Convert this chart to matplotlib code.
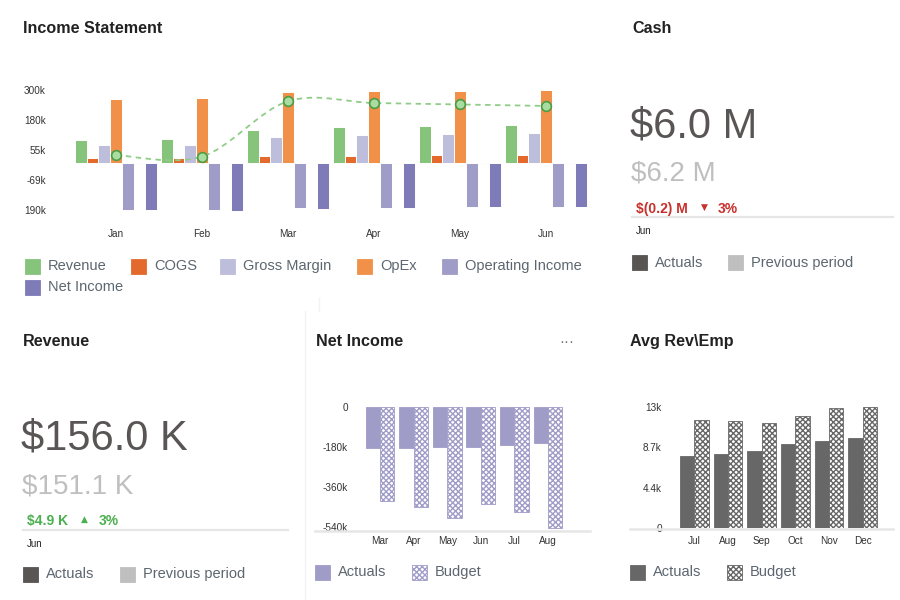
"""Finance dashboard: income statement, cash, revenue, net income, avg rev per employee."""

import matplotlib

matplotlib.use("Agg")
import matplotlib.pyplot as plt
from matplotlib import font_manager
from matplotlib.lines import Line2D
from matplotlib.patches import PathPatch, Rectangle
from matplotlib.path import Path

W, H = 900, 600

# Income statement (Jan-Jun)
MONTHS = ["Jan", "Feb", "Mar", "Apr", "May", "Jun"]
REVENUE = [96e3, 98.5e3, 137e3, 149e3, 151.1e3, 156e3]
COGS = [21e3, 22e3, 29e3, 32e3, 33e3, 35e3]
GROSS_MARGIN = [75e3, 77e3, 108e3, 118e3, 121e3, 124e3]
OPEX = [263e3, 269e3, 292e3, 298e3, 298e3, 301e3]
OPERATING_INCOME = [-189e3, -191e3, -183e3, -180e3, -176e3, -178e3]
OTHER = [-3e3, -3e3, -3e3, -3e3, -3e3, -3e3]
NET_INCOME = [-190e3, -193e3, -185e3, -182e3, -178e3, -178e3]
TREND = [34e3, 28e3, 254e3, 247e3, 241e3, 235e3]
INCOME_TICKS = [300e3, 177.5e3, 55e3, -67.5e3, -190e3]
INCOME_TICK_LABELS = ["300k", "180k", "55k", "-69k", "190k"]

# KPI cards
CASH_ACTUAL, CASH_PREV = 6.0, 6.2
REV_ACTUAL, REV_PREV = 156.0, 151.1

# Net income actuals vs budget (Mar-Aug)
NI_MONTHS = ["Mar", "Apr", "May", "Jun", "Jul", "Aug"]
NI_ACTUALS = [-187e3, -184e3, -180e3, -181e3, -174e3, -165e3]
NI_BUDGET = [-426e3, -450e3, -502e3, -440e3, -472e3, -544e3]
NI_TICKS = [0, -180e3, -360e3, -540e3]
NI_TICK_LABELS = ["0", "-180k", "-360k", "-540k"]

# Avg revenue per employee (Jul-Dec)
AVG_MONTHS = ["Jul", "Aug", "Sep", "Oct", "Nov", "Dec"]
AVG_ACTUALS = [7770, 8020, 8300, 9020, 9350, 9710]
AVG_BUDGET = [11580, 11500, 11320, 12080, 12870, 13010]
AVG_TICKS = [0, 4350, 8700, 13050]
AVG_TICK_LABELS = ["0", "4.4k", "8.7k", "13k"]

SERIES_COLORS = {
    "Revenue": "#86c47c",
    "COGS": "#e36a2c",
    "Gross Margin": "#bdbddc",
    "OpEx": "#f19149",
    "Operating Income": "#a09cc8",
    "Net Income": "#7f7bb8",
}
OTHER_COLOR = "#f7a86c"
TITLE_C = "#222222"
LEGEND_C = "#5c6670"
BIG_C = "#5a5555"
PREV_C = "#bfbfbf"
RED = "#c8302c"
GREEN = "#4caf50"
LAVENDER = "#a09cc8"
GRAY = "#676767"
HATCH = "xxxxxx"

plt.rcParams["font.family"] = ["Liberation Sans", "DejaVu Sans"]
plt.rcParams["hatch.linewidth"] = 1.0

names = {f.name for f in font_manager.fontManager.ttflist}
if "Liberation Sans Narrow" in names:
    TITLE_FONT = dict(family=["Liberation Sans Narrow", "DejaVu Sans"], size=13, weight="bold")
else:
    TITLE_FONT = dict(family=["Liberation Sans", "DejaVu Sans"], size=11.6, weight="bold")

fig = plt.figure(figsize=(W / 100, H / 100), dpi=100)


def fx(x):
    return x / W


def fy(y):
    return 1 - y / H


def add_ax(left, top, right, bottom):
    ax = fig.add_axes([fx(left), fy(bottom), (right - left) / W, (bottom - top) / H])
    for s in ax.spines.values():
        s.set_visible(False)
    ax.tick_params(length=0, labelsize=7.2, colors="#333333")
    return ax


def title(x, y, text):
    fig.text(fx(x), fy(y), text, color=TITLE_C, va="baseline", ha="left", **TITLE_FONT)


def legend_item(x, y, label, face, hatch=None, edge=None, size=15):
    fig.patches.append(Rectangle((fx(x), fy(y + size / 2)), size / W, size / H,
                                 transform=fig.transFigure, facecolor=face,
                                 edgecolor=edge if edge else face, hatch=hatch, lw=0.6))
    fig.text(fx(x + size + 8), fy(y), label, fontsize=10.5, color=LEGEND_C, va="center")


def hline(x0, x1, y, color="#e6e6e6", lw=1.6):
    fig.add_artist(Line2D([fx(x0), fx(x1)], [fy(y), fy(y)], color=color, lw=lw,
                          transform=fig.transFigure))


def vline(x, y0, y1, color="#f3f3f3", lw=1):
    fig.add_artist(Line2D([fx(x), fx(x)], [fy(y0), fy(y1)], color=color, lw=lw,
                          transform=fig.transFigure))


def smooth_path(xs, ys):
    # Catmull-Rom curve through the points, expressed as cubic Beziers
    pts = list(zip(xs, ys))
    verts = [pts[0]]
    codes = [Path.MOVETO]
    for i in range(len(pts) - 1):
        p0 = pts[i - 1] if i > 0 else pts[i]
        p1, p2 = pts[i], pts[i + 1]
        p3 = pts[i + 2] if i + 2 < len(pts) else pts[i + 1]
        c1 = (p1[0] + (p2[0] - p0[0]) / 6, p1[1] + (p2[1] - p0[1]) / 6)
        c2 = (p2[0] - (p3[0] - p1[0]) / 6, p2[1] - (p3[1] - p1[1]) / 6)
        verts += [c1, c2, p2]
        codes += [Path.CURVE4] * 3
    return Path(verts, codes)


# ---------------- Income Statement ----------------
title(23, 33.3, "Income Statement")
ax = add_ax(50, 85, 592, 215)
x = list(range(len(MONTHS)))
bw = 11.7 / 86
series = [
    (REVENUE, SERIES_COLORS["Revenue"]),
    (COGS, SERIES_COLORS["COGS"]),
    (GROSS_MARGIN, SERIES_COLORS["Gross Margin"]),
    (OPEX, SERIES_COLORS["OpEx"]),
    (OPERATING_INCOME, SERIES_COLORS["Operating Income"]),
    (OTHER, OTHER_COLOR),
    (NET_INCOME, SERIES_COLORS["Net Income"]),
]
for k, (vals, color) in enumerate(series):
    ax.bar([i + (k - 3) * bw for i in x], vals, width=bw, color=color,
           edgecolor="white", linewidth=0.7)
ax.add_patch(PathPatch(smooth_path(x, TREND), fill=False, edgecolor="#8fcd87",
                       lw=1.3, linestyle=(0, (3, 2.5))))
ax.plot(x, TREND, "o", ms=7, mfc="#a9dca1", mec="#4c9c47", mew=1.2)
ax.set_xlim(-0.767, 5.535)
ax.set_ylim(-210.3e3, 320.5e3)
ax.set_yticks(INCOME_TICKS, INCOME_TICK_LABELS)
ax.set_xticks(x, MONTHS)
ax.tick_params(axis="y", pad=3)
ax.tick_params(axis="x", pad=10)

legend_rows = [
    [(25, "Revenue"), (131, "COGS"), (220, "Gross Margin"), (357, "OpEx"), (442, "Operating Income")],
    [(25, "Net Income")],
]
for row_y, row in zip([266, 287], legend_rows):
    for lx, name in row:
        legend_item(lx, row_y, name, SERIES_COLORS[name])

# ---------------- Cash card ----------------
title(632, 33.3, "Cash")
fig.text(fx(630), fy(138), f"${CASH_ACTUAL:.1f} M", fontsize=30, color=BIG_C, va="baseline")
fig.text(fx(631), fy(180.7), f"${CASH_PREV:.1f} M", fontsize=20, color=PREV_C, va="baseline")
fig.text(fx(636), fy(212.7), f"$({abs(CASH_ACTUAL - CASH_PREV):.1f}) M", fontsize=10,
         weight="bold", color=RED, va="baseline")
fig.text(fx(704), fy(207.5), "\u25bc", fontsize=6.5, color=RED, va="center", ha="center",
         family=["DejaVu Sans"])
fig.text(fx(718), fy(212.7), f"{abs(CASH_ACTUAL - CASH_PREV) / CASH_PREV * 100:.0f}%",
         fontsize=10, weight="bold", color=RED, va="baseline")
hline(632, 893, 217)
fig.text(fx(636), fy(234), "Jun", fontsize=7, color="#222222", va="baseline")
legend_item(632, 262.7, "Actuals", BIG_C)
legend_item(728, 262.7, "Previous period", PREV_C)

# ---------------- Revenue card ----------------
title(23, 346.3, "Revenue")
fig.text(fx(21), fy(450), f"${REV_ACTUAL:.1f} K", fontsize=30, color=BIG_C, va="baseline")
fig.text(fx(22), fy(493.3), f"${REV_PREV:.1f} K", fontsize=20, color=PREV_C, va="baseline")
fig.text(fx(27), fy(525), f"${REV_ACTUAL - REV_PREV:.1f} K", fontsize=10, weight="bold",
         color=GREEN, va="baseline")
fig.text(fx(84), fy(519), "\u25b2", fontsize=6.5, color=GREEN, va="center", ha="center",
         family=["DejaVu Sans"])
fig.text(fx(99), fy(525), f"{(REV_ACTUAL - REV_PREV) / REV_PREV * 100:.0f}%", fontsize=10,
         weight="bold", color=GREEN, va="baseline")
hline(23, 288, 529.5)
fig.text(fx(27), fy(546.7), "Jun", fontsize=7, color="#222222", va="baseline")
legend_item(23, 574, "Actuals", BIG_C)
legend_item(120, 574, "Previous period", PREV_C)

# panel dividers
vline(319, 298, 311)
vline(305, 311, 600)

# ---------------- Net Income ----------------
title(316, 346.3, "Net Income")
fig.text(fx(567), fy(342), "\u00b7\u00b7\u00b7", fontsize=11, color="#777777", ha="center",
         va="center")
ax = add_ax(352, 398, 590, 530)
x = list(range(len(NI_MONTHS)))
nb = 14.4 / 33.6
ax.bar([i - nb / 2 for i in x], NI_ACTUALS, width=nb, color=LAVENDER, edgecolor=LAVENDER,
       linewidth=0.6)
ax.bar([i + nb / 2 for i in x], NI_BUDGET, width=nb, color="white", edgecolor=LAVENDER,
       hatch=HATCH, linewidth=0.6)
ax.set_xlim(-0.833, 6.25)
ax.set_ylim(-555e3, 39e3)
ax.set_yticks(NI_TICKS, NI_TICK_LABELS)
ax.set_xticks(x, NI_MONTHS)
ax.tick_params(axis="y", pad=3)
ax.tick_params(axis="x", pad=4)
hline(315, 590, 530.5, lw=1.8)
legend_item(315, 572, "Actuals", LAVENDER)
legend_item(412, 572, "Budget", "white", hatch=HATCH, edge=LAVENDER)

# ---------------- Avg Rev\Emp ----------------
title(630, 346.3, "Avg Rev\\Emp")
ax = add_ax(666, 398, 893, 528)
x = list(range(len(AVG_MONTHS)))
ab = 14.3 / 33.7
ax.bar([i - ab / 2 for i in x], AVG_ACTUALS, width=ab, color=GRAY, edgecolor=GRAY,
       linewidth=0.6)
ax.bar([i + ab / 2 for i in x], AVG_BUDGET, width=ab, color="white", edgecolor=GRAY,
       hatch=HATCH, linewidth=0.6)
ax.set_xlim(-0.84, 5.9)
ax.set_ylim(0, 14.0e3)
ax.set_yticks(AVG_TICKS, AVG_TICK_LABELS)
ax.set_xticks(x, AVG_MONTHS)
ax.tick_params(axis="y", pad=3)
ax.tick_params(axis="x", pad=6)
hline(630, 893, 529, lw=1.8)
legend_item(630, 572, "Actuals", GRAY)
legend_item(727, 572, "Budget", "white", hatch=HATCH, edge=GRAY)

fig.savefig("out.png", dpi=100, facecolor="white")
